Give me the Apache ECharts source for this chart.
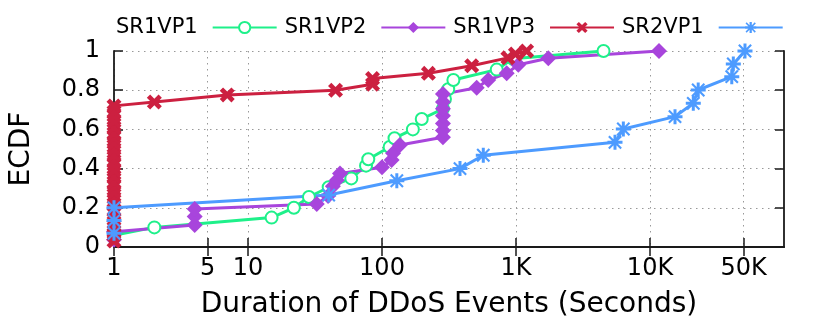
<!DOCTYPE html>
<html>
<head>
<meta charset="utf-8">
<script src="https://cdn.jsdelivr.net/npm/echarts@6/dist/echarts.min.js"></script>
<style>
html, body { margin: 0; padding: 0; background: #fff; }
#chart { width: 822px; height: 325px; }
</style>
</head>
<body>
<div id="chart"></div>
<script>
// tick marks of the log x axis
var xTicks = [1, 5, 10, 100, 1000, 10000, 50000];
var xTickLabels = ['1', '5', '10', '100', '1K', '10K', '50K'];

// SR1VP1 (green circles)
var sr1vp1X = [1, 2, 15, 22, 28.5, 40, 59, 76, 79, 114, 124, 170, 198, 285, 295, 312, 341, 718, 950, 4500];
var sr1vp1Y = [0.06, 0.10, 0.15, 0.20, 0.255, 0.305, 0.35, 0.415, 0.448, 0.51, 0.555, 0.60, 0.653, 0.705, 0.755, 0.805, 0.852, 0.905, 0.96, 1.0];

// SR1VP2 (purple diamonds)
var sr1vp2X = [1, 1, 4, 4, 4, 32.6, 39.6, 43, 46, 48.6, 100, 118, 121, 136, 285, 285, 285, 285, 285, 285, 285, 509, 621, 852, 1041, 1742, 11670];
var sr1vp2Y = [0.037, 0.078, 0.112, 0.155, 0.194, 0.22, 0.26, 0.31, 0.34, 0.375, 0.407, 0.444, 0.478, 0.52, 0.56, 0.595, 0.63, 0.67, 0.705, 0.74, 0.78, 0.813, 0.852, 0.886, 0.93, 0.963, 1.0];

// SR1VP3 (red crosses)
var sr1vp3X = [1, 1, 1, 1, 1, 1, 1, 1, 1, 1, 1, 1, 1, 1, 1, 1, 1, 1, 1, 1, 1, 1, 1, 1, 1, 1, 2, 7, 45, 85, 85, 222, 467, 870, 990, 1200];
var sr1vp3Y = [0.03, 0.06, 0.08, 0.11, 0.14, 0.17, 0.19, 0.22, 0.25, 0.28, 0.31, 0.33, 0.36, 0.39, 0.42, 0.44, 0.47, 0.50, 0.53, 0.56, 0.58, 0.61, 0.64, 0.67, 0.69, 0.72, 0.74, 0.776, 0.80, 0.83, 0.86, 0.886, 0.925, 0.965, 0.985, 1.0];

// SR2VP1 (blue stars)
var sr2vp1X = [1, 1, 1, 40, 129, 382, 570, 5480, 6325, 15370, 21040, 22900, 40760, 41860, 51150];
var sr2vp1Y = [0.07, 0.135, 0.2, 0.265, 0.338, 0.40, 0.468, 0.534, 0.602, 0.665, 0.733, 0.801, 0.869, 0.934, 1.0];

var FONT = 'DejaVu Sans';
var crossPath = 'path://M0,2.2 L2.2,0 L5,2.8 L7.8,0 L10,2.2 L7.2,5 L10,7.8 L7.8,10 L5,7.2 L2.2,10 L0,7.8 L2.8,5 Z';
var starPath = 'path://M4,0 L6,0 L6,4 L10,4 L10,6 L6,6 L6,10 L4,10 L4,6 L0,6 L0,4 L4,4 Z ' +
  'M1.4,0.4 L5,4 L8.6,0.4 L9.6,1.4 L6,5 L9.6,8.6 L8.6,9.6 L5,6 L1.4,9.6 L0.4,8.6 L4,5 L0.4,1.4 Z';

function pairs(xs, ys) {
  var out = [];
  for (var i = 0; i < xs.length; i++) out.push([xs[i], ys[i]]);
  return out;
}

function xLabel(v) {
  for (var i = 0; i < xTicks.length; i++) {
    if (Math.abs(v - xTicks[i]) / xTicks[i] < 1e-6) return xTickLabels[i];
  }
  return '';
}

function makeSeries(name, xs, ys, color, symbol, size) {
  return {
    name: name,
    type: 'line',
    data: pairs(xs, ys),
    symbol: symbol,
    symbolSize: size,
    showAllSymbol: true,
    clip: false,
    lineStyle: { color: color, width: 3 },
    itemStyle: { color: color, borderColor: color, borderWidth: symbol === 'emptyCircle' ? 2.8 : 0 },
    emphasis: { disabled: true },
    animation: false
  };
}

var chart = echarts.init(document.getElementById('chart'));
var axisColor = '#1a1a1a';
var option = {
  backgroundColor: '#fff',
  animation: false,
  grid: { left: 114, right: 38, top: 51, bottom: 78 },
  legend: {
    top: 12,
    left: 111,
    align: 'right',
    itemWidth: 64,
    itemHeight: 14,
    itemGap: 7,
    textStyle: { fontSize: 21, fontFamily: FONT, color: '#000', padding: [0, 10, 0, 0] },
    data: ['SR1VP1', 'SR1VP2', 'SR1VP3', 'SR2VP1']
  },
  xAxis: [
    {
      type: 'log',
      logBase: 10,
      min: 1,
      max: 100000,
      position: 'bottom',
      name: 'Duration of DDoS Events (Seconds)',
      nameLocation: 'middle',
      nameGap: 44,
      nameTextStyle: { fontSize: 28, fontFamily: FONT, color: '#000' },
      axisLine: { show: true, lineStyle: { color: axisColor, width: 1.8 } },
      axisTick: { show: true, inside: true, length: 9, customValues: xTicks, lineStyle: { color: axisColor, width: 1.5 } },
      axisLabel: { customValues: xTicks, formatter: xLabel, fontSize: 24, fontFamily: FONT, color: '#000', margin: 10 },
      splitLine: { show: true, lineStyle: { type: [1.5, 4.5], color: '#999', width: 1 } },
      minorTick: { show: false },
      minorSplitLine: { show: false }
    },
    {
      type: 'log',
      logBase: 10,
      min: 1,
      max: 100000,
      position: 'top',
      axisLine: { show: true, lineStyle: { color: axisColor, width: 1.8 } },
      axisTick: { show: true, inside: true, length: 9, customValues: xTicks, lineStyle: { color: axisColor, width: 1.5 } },
      axisLabel: { show: false, customValues: xTicks },
      splitLine: { show: false }
    }
  ],
  yAxis: [
    {
      type: 'value',
      min: 0,
      max: 1,
      interval: 0.2,
      position: 'left',
      name: 'ECDF',
      nameLocation: 'middle',
      nameGap: 78,
      nameTextStyle: { fontSize: 28, fontFamily: FONT, color: '#000' },
      axisLine: { show: true, lineStyle: { color: axisColor, width: 1.8 } },
      axisTick: { show: true, inside: true, length: 9, lineStyle: { color: axisColor, width: 1.5 } },
      axisLabel: {
        fontSize: 24, fontFamily: FONT, color: '#000', margin: 14,
        formatter: function (v) { return (v === 0 || v === 1) ? String(v) : v.toFixed(1); }
      },
      splitLine: { show: true, lineStyle: { type: [1.5, 4.5], color: '#999', width: 1 } }
    },
    {
      type: 'value',
      min: 0,
      max: 1,
      interval: 0.2,
      position: 'right',
      axisLine: { show: true, lineStyle: { color: axisColor, width: 1.8 } },
      axisTick: { show: true, inside: true, length: 9, lineStyle: { color: axisColor, width: 1.5 } },
      axisLabel: { show: false },
      splitLine: { show: false }
    }
  ],
  series: [
    makeSeries('SR1VP1', sr1vp1X, sr1vp1Y, '#1ef08a', 'emptyCircle', 12),
    makeSeries('SR1VP2', sr1vp2X, sr1vp2Y, '#a845dc', 'diamond', 16),
    makeSeries('SR1VP3', sr1vp3X, sr1vp3Y, '#cc2040', crossPath, 15),
    makeSeries('SR2VP1', sr2vp1X, sr2vp1Y, '#4d9bff', starPath, 15)
  ]
};
chart.setOption(option);
</script>
</body>
</html>
